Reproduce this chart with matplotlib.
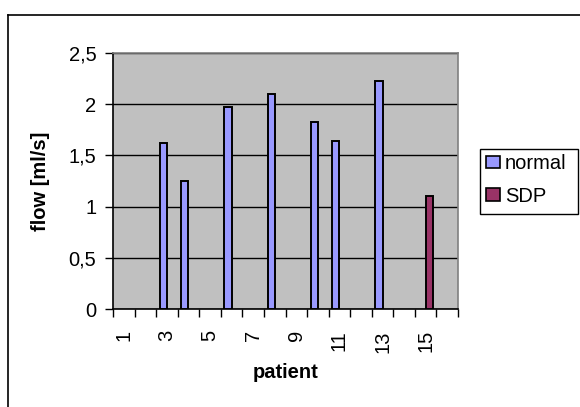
import matplotlib
matplotlib.use("Agg")
import matplotlib.pyplot as plt
import numpy as np
from matplotlib.lines import Line2D
from matplotlib.patches import Patch, Rectangle

plt.rcParams['font.family'] = ['Liberation Sans', 'DejaVu Sans']

patients = list(range(1, 17))
normal_patients = [3, 4, 6, 8, 10, 11, 13]
normal_values = [1.62, 1.25, 1.97, 2.10, 1.82, 1.64, 2.22]
sdp_patients = [15]
sdp_values = [1.10]
xtick_labels = ['1', '3', '5', '7', '9', '11', '13', '15']
ytick_values = [0, 0.5, 1, 1.5, 2, 2.5]
ytick_labels = ['0', '0,5', '1', '1,5', '2', '2,5']

W, H = 580, 407
fig = plt.figure(figsize=(W / 100, H / 100), dpi=100)
fig.patch.set_facecolor('white')

ax = fig.add_axes([113 / W, 1 - 309.3 / H, (458 - 113) / W, (309.3 - 52.7) / H])
ax.set_facecolor('#C0C0C0')

bw = 1 / 3
ax.bar(np.array(normal_patients) - bw / 2, normal_values, width=bw,
       color='#9999FF', edgecolor='black', linewidth=1.4, zorder=3, label='normal')
ax.bar(np.array(sdp_patients) + bw / 2, sdp_values, width=bw,
       color='#993366', edgecolor='black', linewidth=1.4, zorder=3, label='SDP')

ax.set_xlim(0.5, 16.5)
ax.set_ylim(0, 2.5)
ax.set_yticks(ytick_values)
ax.set_yticklabels(ytick_labels, fontsize=14.5)
ax.yaxis.grid(True, color='black', linewidth=1.0, zorder=1)
ax.set_axisbelow(True)

# x: tick marks at category boundaries, labels at odd category centres
ax.set_xticks(np.arange(0.5, 17, 1))
ax.set_xticklabels([])
ax.set_xticks([int(t) for t in xtick_labels], minor=True)
ax.set_xticklabels(xtick_labels, minor=True, rotation=90, fontsize=14.5, va='top', ha='center')
ax.tick_params(axis='x', which='major', length=6, width=1, direction='out', color='black')
ax.tick_params(axis='x', which='minor', length=0, pad=15)
ax.tick_params(axis='y', length=6, width=1, direction='out', pad=6)

for s in ['left', 'bottom']:
    ax.spines[s].set_color('black')
    ax.spines[s].set_linewidth(1.2)
for s in ['top', 'right']:
    ax.spines[s].set_color('#808080')
    ax.spines[s].set_linewidth(1.2)

fig.text(40 / W, 1 - 181 / H, 'flow [ml/s]', rotation=90, fontsize=14.5, fontweight='bold',
         ha='center', va='center')
fig.text(286 / W, 1 - 373 / H, 'patient', fontsize=14.5, fontweight='bold',
         ha='center', va='center')

# legend frame drawn explicitly (Excel-like box)
fig.add_artist(Rectangle((479.5 / W, 1 - 214 / H), (578 - 479.5) / W, (214 - 148.5) / H,
                         transform=fig.transFigure, facecolor='white', edgecolor='black',
                         linewidth=1.0, zorder=4))
handles = [Patch(facecolor='#9999FF', edgecolor='black', linewidth=1.2, label='normal'),
           Patch(facecolor='#993366', edgecolor='black', linewidth=1.2, label='SDP')]
leg = fig.legend(handles=handles, loc='center left', bbox_to_anchor=(486 / W, 1 - 180 / H),
                 fontsize=14.5, frameon=False,
                 handlelength=0.7, handleheight=0.6, handletextpad=0.25,
                 borderpad=0.0, labelspacing=0.68, borderaxespad=0)
leg.set_zorder(5)

# chart-area border (top and left visible)
fig.add_artist(Line2D([7.5 / W, 1.0], [1 - 14.5 / H, 1 - 14.5 / H], color='black', linewidth=1.2,
                      transform=fig.transFigure))
fig.add_artist(Line2D([7.5 / W, 7.5 / W], [0, 1 - 14.5 / H], color='black', linewidth=1.2,
                      transform=fig.transFigure))

fig.savefig('out.png', dpi=100)
